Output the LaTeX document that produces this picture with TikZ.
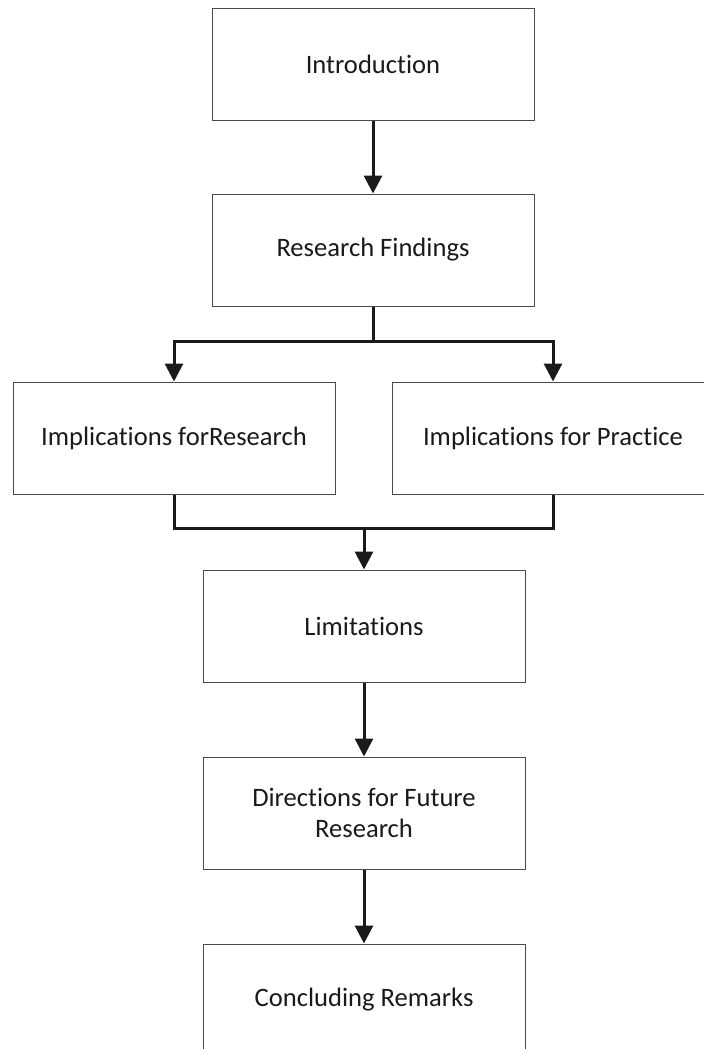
\documentclass[tikz,border=0pt]{standalone}
\usepackage{fontspec}
\setmainfont{Carlito}[Ligatures={NoCommon}]
\usepackage{xcolor}
\usetikzlibrary{positioning,arrows.meta}
\definecolor{ink}{HTML}{1A1A1A}
\definecolor{frame}{HTML}{4A4A4A}

\begin{document}
\begin{tikzpicture}[
  x=0.5pt,y=0.5pt,
  font=\fontsize{13.3}{15.5}\selectfont,
  >={Triangle[length=9pt,width=9pt]},
  stagebox/.style={draw=frame,line width=0.5pt,minimum width=161pt,minimum height=56pt,inner sep=0pt,align=center,text=ink},
  conn/.style={line width=1.5pt,ink},
  arr/.style={conn,->}
]
\useasboundingbox (0,0) rectangle (704,-1049);
% top of the chain
\node[stagebox] (intro) at (373,-64) {Introduction};
\node[stagebox] (findings) at (373,-250) {Research Findings};
% the two implications
\node[stagebox] (impR) at (174,-438) {Implications forResearch};
\node[stagebox] (impP) at (553,-438) {Implications for Practice};
% rest of the chain
\node[stagebox] (limits) at (364,-626) {Limitations};
\node[stagebox] (future) at (364,-813) {Directions for Future\\Research};
\node[stagebox] (concl) at (364,-1000) {Concluding Remarks};
% split and merge points
\coordinate (split) at (373,-341);
\coordinate (merge) at (364,-528);
% connectors
\draw[arr] (intro) -- (findings);
\draw[conn] (findings.south) -- (split);
\draw[arr] (split) -| (impR.north);
\draw[arr] (split) -| (impP.north);
\draw[conn] (impR.south) |- (merge);
\draw[conn] (impP.south) |- (merge);
\draw[arr] (merge) -- (limits.north);
\draw[arr] (limits) -- (future);
\draw[arr] (future) -- (concl);
\end{tikzpicture}
\end{document}
